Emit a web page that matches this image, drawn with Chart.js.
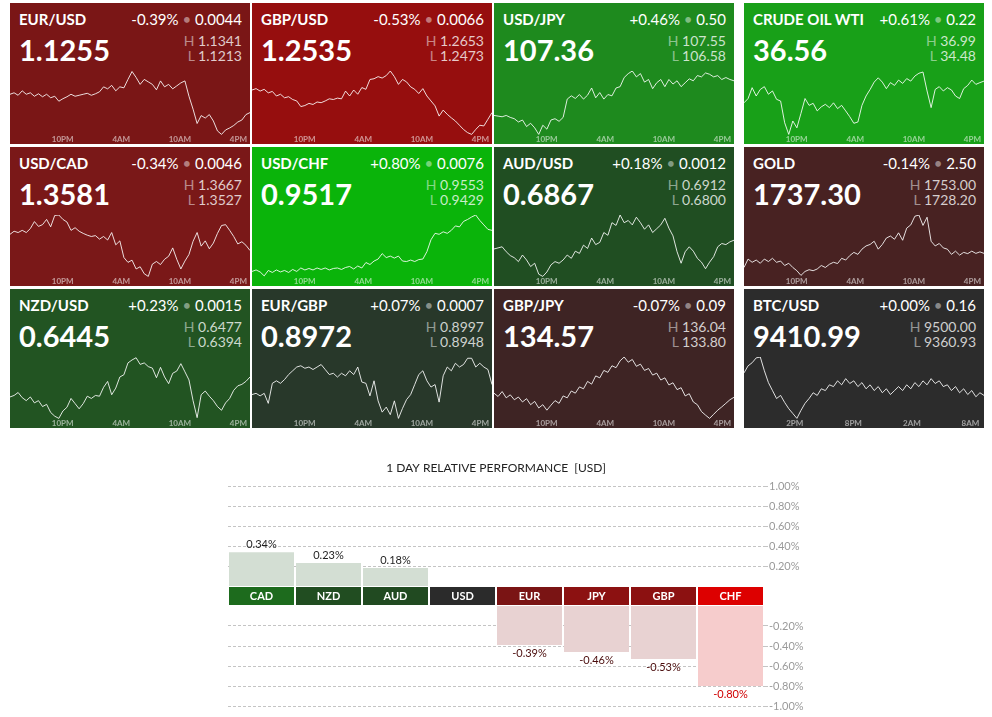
<!DOCTYPE html>
<html>
<head>
<meta charset="utf-8">
<title>Markets board</title>
<script src="https://cdn.jsdelivr.net/npm/chart.js@4.4.1/dist/chart.umd.min.js"></script>
<style>
    html, body { margin: 0; padding: 0; background: #fff; }
    body { width: 992px; height: 717px; position: relative; overflow: hidden; font-family: Lato, sans-serif; }
    .tile { position: absolute; width: 240px; overflow: hidden; color: #fff; }
    .tile .name { position: absolute; left: 9px; top: 7px; font-size: 15px; line-height: 18px; font-weight: 700; }
    .tile .change { position: absolute; right: 8px; top: 7px; font-size: 15px; line-height: 18px; white-space: nowrap; }
    .tile .dot { color: rgba(255, 255, 255, 0.45); }
    .tile .price { position: absolute; left: 9px; top: 29px; font-size: 29px; line-height: 35px; font-weight: 700; }
    .tile .hl { position: absolute; right: 8px; font-size: 14px; line-height: 17px; color: rgba(255, 255, 255, 0.78); white-space: nowrap; }
    .tile .hl span { color: rgba(255, 255, 255, 0.5); }
    .tile canvas { position: absolute; left: 0; top: 68px; }
    #perf-up { position: absolute; left: 220px; top: 455px; }
    #perf-down { position: absolute; left: 220px; top: 606px; }
</style>
</head>
<body>
<div id="board"></div>
<canvas id="perf-up" width="590" height="151"></canvas>
<canvas id="perf-down" width="590" height="111"></canvas>
<script>
// тайлы котировок
const tileNames = ['EUR/USD', 'GBP/USD', 'USD/JPY', 'CRUDE OIL WTI', 'USD/CAD', 'USD/CHF', 'AUD/USD', 'GOLD', 'NZD/USD', 'EUR/GBP', 'GBP/JPY', 'BTC/USD'];
const tilePrices = [1.1255, 1.2535, 107.36, 36.56, 1.3581, 0.9517, 0.6867, 1737.30, 0.6445, 0.8972, 134.57, 9410.99];
const tileDecimals = [4, 4, 2, 2, 4, 4, 4, 2, 4, 4, 2, 2];
const tileChangePct = [-0.39, -0.53, 0.46, 0.61, -0.34, 0.80, 0.18, -0.14, 0.23, 0.07, -0.07, 0.00];
const tileChangeAbs = [0.0044, 0.0066, 0.50, 0.22, 0.0046, 0.0076, 0.0012, 2.50, 0.0015, 0.0007, 0.09, 0.16];
const tileHigh = [1.1341, 1.2653, 107.55, 36.99, 1.3667, 0.9553, 0.6912, 1753.00, 0.6477, 0.8997, 136.04, 9500.00];
const tileLow = [1.1213, 1.2473, 106.58, 34.48, 1.3527, 0.9429, 0.6800, 1728.20, 0.6394, 0.8948, 133.80, 9360.93];
const tileClock = ['fx', 'fx', 'fx', 'fx', 'fx', 'fx', 'fx', 'fx', 'fx', 'fx', 'fx', 'btc'];

// подписи оси времени
const fxTickHours = [22, 28, 34, 40];
const fxTickLabels = ['10PM', '4AM', '10AM', '4PM'];
const fxStartHour = 16.6;
const btcTickHours = [14, 20, 26, 32];
const btcTickLabels = ['2PM', '8PM', '2AM', '8AM'];
const btcStartHour = 8.8;
const sampleStepHours = 25 / 60;

// дневные ряды (шаг 25 минут)
const eurUsdSeries = [
    1.1294, 1.1297, 1.1292, 1.1301, 1.1294, 1.1297, 1.1290, 1.1295, 1.1289, 1.1294,
    1.1287, 1.1290, 1.1280, 1.1285, 1.1289, 1.1294, 1.1290, 1.1292, 1.1294, 1.1296,
    1.1292, 1.1295, 1.1299, 1.1309, 1.1305, 1.1312, 1.1301, 1.1309, 1.1307, 1.1324,
    1.1340, 1.1328, 1.1314, 1.1324, 1.1319, 1.1314, 1.1303, 1.1321, 1.1309, 1.1314,
    1.1305, 1.1311, 1.1317, 1.1321, 1.1290, 1.1264, 1.1235, 1.1251, 1.1246, 1.1253,
    1.1240, 1.1220, 1.1213, 1.1222, 1.1226, 1.1231, 1.1238, 1.1242, 1.1253, 1.1257];
const gbpUsdSeries = [
    1.2599, 1.2603, 1.2596, 1.2601, 1.2591, 1.2595, 1.2582, 1.2587, 1.2577, 1.2580,
    1.2572, 1.2568, 1.2552, 1.2555, 1.2561, 1.2558, 1.2565, 1.2563, 1.2568, 1.2574,
    1.2572, 1.2576, 1.2574, 1.2596, 1.2582, 1.2599, 1.2587, 1.2606, 1.2601, 1.2629,
    1.2631, 1.2637, 1.2633, 1.2640, 1.2653, 1.2637, 1.2615, 1.2629, 1.2622, 1.2608,
    1.2601, 1.2589, 1.2603, 1.2582, 1.2568, 1.2554, 1.2525, 1.2542, 1.2530, 1.2520,
    1.2511, 1.2499, 1.2487, 1.2478, 1.2473, 1.2487, 1.2499, 1.2497, 1.2516, 1.2535];
const usdJpySeries = [
    106.87, 106.86, 106.85, 106.87, 106.84, 106.82, 106.77, 106.80, 106.70, 106.75,
    106.68, 106.58, 106.72, 106.66, 106.80, 106.82, 106.78, 106.84, 107.12, 107.17,
    107.13, 107.19, 107.12, 107.18, 107.29, 107.14, 107.22, 107.12, 107.19, 107.17,
    107.29, 107.31, 107.45, 107.51, 107.55, 107.46, 107.51, 107.38, 107.42, 107.28,
    107.37, 107.42, 107.31, 107.42, 107.35, 107.40, 107.31, 107.37, 107.43, 107.40,
    107.48, 107.46, 107.52, 107.50, 107.46, 107.48, 107.42, 107.45, 107.42, 107.40];
const crudeSeries = [
    35.73, 35.90, 36.33, 36.00, 36.26, 36.37, 36.07, 36.20, 35.87, 35.80,
    34.94, 34.48, 35.01, 34.74, 35.31, 35.90, 35.63, 35.71, 35.41, 35.57,
    35.67, 35.54, 35.73, 35.50, 35.63, 35.41, 35.18, 34.92, 34.97, 35.63,
    36.00, 36.26, 36.55, 36.72, 36.55, 36.29, 36.53, 36.42, 36.63, 36.50,
    36.69, 36.59, 36.79, 36.90, 36.95, 36.20, 35.54, 36.26, 36.37, 36.20,
    36.33, 36.24, 36.00, 35.90, 36.29, 36.42, 36.63, 36.46, 36.53, 36.59];
const usdCadSeries = [
    1.3623, 1.3630, 1.3627, 1.3632, 1.3627, 1.3636, 1.3652, 1.3641, 1.3645, 1.3657,
    1.3640, 1.3666, 1.3667, 1.3657, 1.3651, 1.3632, 1.3638, 1.3630, 1.3625, 1.3621,
    1.3618, 1.3620, 1.3612, 1.3618, 1.3610, 1.3627, 1.3599, 1.3608, 1.3570, 1.3559,
    1.3564, 1.3544, 1.3549, 1.3533, 1.3527, 1.3555, 1.3561, 1.3554, 1.3566, 1.3573,
    1.3592, 1.3566, 1.3544, 1.3562, 1.3577, 1.3607, 1.3627, 1.3596, 1.3608, 1.3590,
    1.3603, 1.3625, 1.3643, 1.3645, 1.3632, 1.3618, 1.3601, 1.3606, 1.3598, 1.3586];
const usdChfSeries = [
    0.9439, 0.9442, 0.9438, 0.9430, 0.9441, 0.9437, 0.9442, 0.9438, 0.9441, 0.9437,
    0.9443, 0.9439, 0.9446, 0.9442, 0.9445, 0.9442, 0.9446, 0.9443, 0.9446, 0.9442,
    0.9445, 0.9446, 0.9443, 0.9447, 0.9449, 0.9444, 0.9450, 0.9446, 0.9457, 0.9453,
    0.9460, 0.9464, 0.9475, 0.9467, 0.9470, 0.9466, 0.9470, 0.9460, 0.9459, 0.9462,
    0.9459, 0.9463, 0.9464, 0.9479, 0.9503, 0.9516, 0.9514, 0.9519, 0.9516, 0.9522,
    0.9531, 0.9529, 0.9540, 0.9544, 0.9549, 0.9553, 0.9542, 0.9533, 0.9524, 0.9522];
const audUsdSeries = [
    0.6850, 0.6852, 0.6854, 0.6845, 0.6838, 0.6834, 0.6827, 0.6839, 0.6830, 0.6818,
    0.6824, 0.6804, 0.6800, 0.6808, 0.6821, 0.6827, 0.6824, 0.6830, 0.6839, 0.6833,
    0.6846, 0.6842, 0.6857, 0.6851, 0.6870, 0.6858, 0.6862, 0.6880, 0.6875, 0.6898,
    0.6893, 0.6912, 0.6898, 0.6902, 0.6894, 0.6908, 0.6898, 0.6886, 0.6894, 0.6880,
    0.6887, 0.6894, 0.6906, 0.6888, 0.6874, 0.6845, 0.6824, 0.6845, 0.6854, 0.6846,
    0.6833, 0.6826, 0.6814, 0.6826, 0.6836, 0.6854, 0.6860, 0.6858, 0.6863, 0.6866];
const goldSeries = [
    1731.8, 1735.2, 1733.9, 1734.8, 1733.5, 1735.2, 1734.2, 1735.5, 1733.9, 1734.4,
    1732.6, 1733.5, 1731.8, 1730.5, 1728.6, 1730.2, 1730.9, 1730.5, 1731.2, 1732.6,
    1731.8, 1733.1, 1733.9, 1733.4, 1735.5, 1734.8, 1736.6, 1737.9, 1737.1, 1739.2,
    1740.5, 1741.1, 1742.4, 1739.2, 1741.1, 1743.7, 1744.5, 1743.2, 1745.8, 1742.8,
    1747.7, 1749.0, 1752.5, 1753.0, 1748.8, 1752.1, 1742.4, 1740.5, 1741.5, 1739.7,
    1739.2, 1737.1, 1738.4, 1736.8, 1737.9, 1737.4, 1738.4, 1737.5, 1738.1, 1737.5];
const nzdUsdSeries = [
    0.6423, 0.6425, 0.6429, 0.6422, 0.6418, 0.6423, 0.6415, 0.6418, 0.6410, 0.6413,
    0.6402, 0.6397, 0.6394, 0.6404, 0.6409, 0.6421, 0.6414, 0.6407, 0.6414, 0.6424,
    0.6421, 0.6425, 0.6424, 0.6436, 0.6444, 0.6426, 0.6435, 0.6450, 0.6453, 0.6469,
    0.6473, 0.6476, 0.6467, 0.6469, 0.6464, 0.6462, 0.6449, 0.6463, 0.6450, 0.6441,
    0.6455, 0.6458, 0.6468, 0.6457, 0.6446, 0.6418, 0.6395, 0.6426, 0.6431, 0.6424,
    0.6418, 0.6410, 0.6405, 0.6415, 0.6421, 0.6432, 0.6438, 0.6440, 0.6444, 0.6450];
const eurGbpSeries = [
    0.8967, 0.8968, 0.8966, 0.8968, 0.8960, 0.8976, 0.8978, 0.8976, 0.8979, 0.8983,
    0.8986, 0.8989, 0.8990, 0.8988, 0.8989, 0.8987, 0.8989, 0.8991, 0.8987, 0.8983,
    0.8984, 0.8981, 0.8984, 0.8982, 0.8986, 0.8983, 0.8989, 0.8977, 0.8976, 0.8966,
    0.8978, 0.8962, 0.8953, 0.8957, 0.8951, 0.8962, 0.8948, 0.8956, 0.8963, 0.8967,
    0.8975, 0.8983, 0.8986, 0.8978, 0.8973, 0.8975, 0.8961, 0.8982, 0.8989, 0.8986,
    0.8992, 0.8989, 0.8991, 0.8996, 0.8996, 0.8989, 0.8992, 0.8989, 0.8987, 0.8975];
const gbpJpySeries = [
    134.72, 134.60, 134.78, 134.55, 134.66, 134.48, 134.58, 134.40, 134.52, 134.30,
    134.42, 134.18, 134.30, 134.10, 134.28, 134.45, 134.35, 134.62, 134.55, 134.80,
    134.72, 134.95, 134.88, 135.15, 135.05, 135.35, 135.28, 135.55, 135.48, 135.72,
    135.65, 135.90, 136.04, 135.85, 135.95, 135.70, 135.78, 135.55, 135.62, 135.38,
    135.45, 135.20, 135.28, 135.02, 135.10, 134.85, 134.92, 134.62, 134.70, 134.40,
    134.30, 134.05, 133.92, 133.80, 133.95, 134.10, 134.22, 134.35, 134.48, 134.57];
const btcUsdSeries = [
    9464, 9480, 9487, 9498, 9500, 9469, 9442, 9424, 9406, 9413,
    9397, 9383, 9372, 9361, 9379, 9395, 9406, 9419, 9413, 9428,
    9424, 9437, 9433, 9446, 9437, 9451, 9440, 9446, 9433, 9442,
    9428, 9437, 9424, 9433, 9419, 9428, 9415, 9424, 9433, 9424,
    9437, 9428, 9442, 9433, 9446, 9437, 9451, 9440, 9446, 9433,
    9437, 9424, 9433, 9419, 9428, 9415, 9424, 9410, 9419, 9413];
const tileSeries = [eurUsdSeries, gbpUsdSeries, usdJpySeries, crudeSeries, usdCadSeries, usdChfSeries,
    audUsdSeries, goldSeries, nzdUsdSeries, eurGbpSeries, gbpJpySeries, btcUsdSeries];

// относительная доходность за день
const perfLabels = ['CAD', 'NZD', 'AUD', 'USD', 'EUR', 'JPY', 'GBP', 'CHF'];
const perfValues = [0.34, 0.23, 0.18, 0.00, -0.39, -0.46, -0.53, -0.80];
const perfUpTicks = [0.2, 0.4, 0.6, 0.8, 1.0];
const perfDownTicks = [-0.2, -0.4, -0.6, -0.8, -1.0];

// оформление
const tileColors = ['#7a1616', '#960e0e', '#1e8a1e', '#18a018', '#7a1818', '#0ab40a',
    '#204e22', '#482222', '#225422', '#28382a', '#3e2424', '#2c2c2c'];
const colLefts = [10, 252, 494, 744];
const rowTops = [3, 147, 289];
const rowHeights = [141, 139, 139];
const perfBoxColors = ['#1d6b1d', '#214d21', '#214a21', '#2b2b2b', '#7a1414', '#8c1111', '#8c1111', '#dd0000'];
const perfBarColors = ['#d3ded3', '#d3ded3', '#d3ded3', '#d3ded3', '#e8d2d2', '#e8d2d2', '#e8d2d2', '#f6cccc'];
const perfTextColors = ['#1f1f1f', '#1f1f1f', '#1f1f1f', '#1f1f1f', '#4a0c0c', '#4a0c0c', '#4a0c0c', '#d00000'];

Chart.defaults.font.family = 'Lato, sans-serif';
Chart.defaults.animation = false;

function signedPct(v) {
    return (v >= 0 ? '+' : '') + v.toFixed(2) + '%';
}

function drawSparkline(canvas, i) {
    const isBtc = tileClock[i] === 'btc';
    const start = isBtc ? btcStartHour : fxStartHour;
    const tickHours = isBtc ? btcTickHours : fxTickHours;
    const tickLabels = isBtc ? btcTickLabels : fxTickLabels;
    const series = tileSeries[i];

    new Chart(canvas, {
        type: 'line',
        data: {
            datasets: [{
                data: series.map((v, k) => ({x: start + k * sampleStepHours, y: v})),
                borderColor: 'rgba(255, 255, 255, 0.85)',
                borderWidth: 1,
                pointRadius: 0,
                tension: 0,
                clip: 2
            }]
        },
        options: {
            responsive: false,
            events: [],
            plugins: {legend: {display: false}, tooltip: {enabled: false}},
            scales: {
                x: {
                    type: 'linear',
                    min: start,
                    max: start + (series.length - 1) * sampleStepHours,
                    afterBuildTicks: (scale) => {
                        scale.ticks = tickHours.map(h => ({value: h}));
                    },
                    afterFit: (scale) => {
                        scale.paddingLeft = 0;
                        scale.paddingRight = 0;
                    },
                    ticks: {
                        callback: (value, index) => tickLabels[index],
                        color: 'rgba(255, 255, 255, 0.55)',
                        font: {size: 8, weight: 'bold'},
                        padding: 0,
                        maxRotation: 0,
                        autoSkip: false
                    },
                    grid: {display: false, drawTicks: false},
                    border: {display: false}
                },
                y: {display: false, min: tileLow[i], max: tileHigh[i]}
            }
        }
    });
}

const board = document.getElementById('board');
tileNames.forEach((name, i) => {
    const row = Math.floor(i / 4);
    const col = i % 4;
    const d = tileDecimals[i];
    const tile = document.createElement('div');
    tile.className = 'tile';
    tile.style.left = colLefts[col] + 'px';
    tile.style.top = rowTops[row] + 'px';
    tile.style.height = rowHeights[row] + 'px';
    tile.style.background = tileColors[i];
    tile.innerHTML =
        `<div class="name">${name}</div>` +
        `<div class="change">${signedPct(tileChangePct[i])} <span class="dot">•</span> ${tileChangeAbs[i].toFixed(d)}</div>` +
        `<div class="price">${tilePrices[i].toFixed(d)}</div>` +
        `<div class="hl" style="top:29px"><span>H</span> ${tileHigh[i].toFixed(d)}</div>` +
        `<div class="hl" style="top:44px"><span>L</span> ${tileLow[i].toFixed(d)}</div>`;
    const canvas = document.createElement('canvas');
    canvas.width = 240;
    canvas.height = rowHeights[row] - 68;
    tile.appendChild(canvas);
    board.appendChild(tile);
    drawSparkline(canvas, i);
});

// подписи значений над/под столбцами
const valueLabelsPlugin = {
    id: 'valueLabels',
    afterDatasetsDraw(chart) {
        const ctx = chart.ctx;
        const values = chart.data.datasets[0].data;
        ctx.save();
        ctx.font = '11px Lato, sans-serif';
        ctx.textAlign = 'center';
        ctx.textBaseline = 'middle';
        chart.getDatasetMeta(0).data.forEach((bar, i) => {
            const v = values[i];
            if (v === null) return;
            ctx.fillStyle = perfTextColors[i];
            ctx.fillText(v.toFixed(2) + '%', bar.x, v > 0 ? bar.y - 8 : bar.y + 8);
        });
        ctx.restore();
    }
};

// полоса с названиями валют под верхним графиком
const currencyStripPlugin = {
    id: 'currencyStrip',
    afterDraw(chart) {
        const {ctx, chartArea, scales} = chart;
        const x = scales.x;
        const w = x.width / perfLabels.length;
        ctx.save();
        ctx.font = 'bold 11px Lato, sans-serif';
        ctx.textAlign = 'center';
        ctx.textBaseline = 'middle';
        perfLabels.forEach((label, i) => {
            const cx = x.getPixelForValue(i);
            ctx.fillStyle = perfBoxColors[i];
            ctx.fillRect(Math.round(cx - w / 2 + 1), chartArea.bottom + 1, Math.round(w - 2), 18);
            ctx.fillStyle = '#ffffff';
            ctx.fillText(label, cx, chartArea.bottom + 10.5);
        });
        ctx.restore();
    }
};

function perfChart(canvasId, values, tickValues, yMin, yMax, padding, withTitle, extraPlugins) {
    return new Chart(document.getElementById(canvasId), {
        type: 'bar',
        data: {
            labels: perfLabels,
            datasets: [{
                data: values,
                backgroundColor: perfBarColors,
                categoryPercentage: 65 / 67,
                barPercentage: 1
            }]
        },
        options: {
            responsive: false,
            events: [],
            layout: {padding: padding},
            plugins: {
                legend: {display: false},
                tooltip: {enabled: false},
                title: {
                    display: withTitle,
                    fullSize: false,
                    text: '1 DAY RELATIVE PERFORMANCE  [USD]',
                    color: '#222',
                    font: {size: 12, weight: 'normal'},
                    padding: {top: 6, bottom: 11}
                }
            },
            scales: {
                x: {display: false},
                y: {
                    position: 'right',
                    min: yMin,
                    max: yMax,
                    afterBuildTicks: (scale) => {
                        scale.ticks = tickValues.map(v => ({value: v}));
                    },
                    afterFit: (scale) => {
                        scale.width = 46;
                        scale.paddingTop = 0;
                        scale.paddingBottom = 0;
                    },
                    ticks: {
                        callback: (value) => value.toFixed(2) + '%',
                        color: '#9a9a9a',
                        font: {size: 11},
                        padding: 1
                    },
                    grid: {color: '#c4c4c4', lineWidth: 1, tickLength: 4},
                    border: {display: false, dash: [3, 2]}
                }
            }
        },
        plugins: extraPlugins
    });
}

perfChart('perf-up', perfValues.map(v => v > 0 ? v : null), perfUpTicks, 0, 1.0,
    {left: 8, right: 0, top: 0, bottom: 20}, true, [valueLabelsPlugin, currencyStripPlugin]);
perfChart('perf-down', perfValues.map(v => v < 0 ? v : null), perfDownTicks, -1.0, 0,
    {left: 8, right: 0, top: 0, bottom: 11}, false, [valueLabelsPlugin]);
</script>
</body>
</html>
